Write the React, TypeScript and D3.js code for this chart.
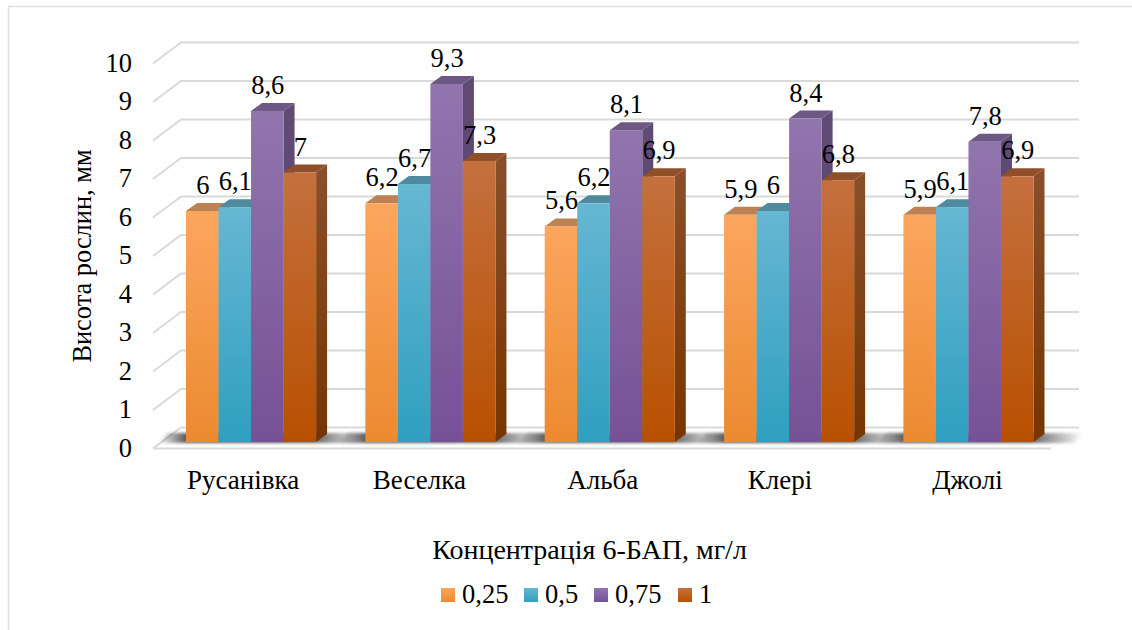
import React from "react";
import * as d3 from "d3";

const categories = ["Русанівка", "Веселка", "Альба", "Клері", "Джолі"];
const seriesNames = ["0,25", "0,5", "0,75", "1"];
const conc025 = [6, 6.2, 5.6, 5.9, 5.9];
const conc05 = [6.1, 6.7, 6.2, 6, 6.1];
const conc075 = [8.6, 9.3, 8.1, 8.4, 7.8];
const conc1 = [7, 7.3, 6.9, 6.8, 6.9];
const seriesValues = [conc025, conc05, conc075, conc1];
const yTicks = d3.range(0, 11);

const WIDTH = 1132;
const HEIGHT = 630;
const FONT = "'Liberation Serif', 'Times New Roman', serif";
const DX = 11; // oblique offset of a bar's depth
const DY = 8;
const GRID = "#d9d9d9";

const palette = [
  { top: "#bd8152", side: "#a86c38", a: "#fba65e", b: "#ec8a30" },
  { top: "#4f8a9f", side: "#3e7f95", a: "#66b7d2", b: "#2f9fc0" },
  { top: "#6d5883", side: "#5c4a70", a: "#9175ad", b: "#765196" },
  { top: "#8f5029", side: "#7f4623", a: "#c4703e", b: "#b85000" },
];

const y = d3.scaleLinear().domain([0, 10]).range([442, 57]);
const yBack = d3.scaleLinear().domain([0, 10]).range([427.5, 42.5]);
const yFront = d3.scaleLinear().domain([0, 10]).range([448.5, 63.5]);
const xGroup = d3.scaleBand<string>().domain(categories).range([186, 1033.5]).paddingInner(0.2747);
const xBar = d3.scaleBand<number>().domain(d3.range(seriesNames.length)).range([0, xGroup.bandwidth()]);

const poly = (pts: [number, number][]) => pts.map((p) => p.join(",")).join(" ");
const categoryNudge = [0, -3, 1, -1, 7];
const legendX = [441, 524, 594, 678];

export default function App() {
  const bw = xBar.bandwidth();
  return (
    <svg
      width={WIDTH}
      height={HEIGHT}
      viewBox={`0 0 ${WIDTH} ${HEIGHT}`}
      style={{ position: "absolute", left: 0, top: 0, background: "#fff" }}
      fontFamily={FONT}
      fill="#000"
    >
      <defs>
        {palette.map((c, i) => (
          <linearGradient key={i} id={`front${i}`} x1="0" y1="0" x2="0" y2="1">
            <stop offset="0" stopColor={c.a} />
            <stop offset="1" stopColor={c.b} />
          </linearGradient>
        ))}
        <linearGradient id="side3" x1="0" y1="0" x2="0" y2="1">
          <stop offset="0" stopColor="#8a4f2b" />
          <stop offset="1" stopColor="#763500" />
        </linearGradient>
        <linearGradient id="side2" x1="0" y1="0" x2="0" y2="1">
          <stop offset="0" stopColor="#5f4c74" />
          <stop offset="1" stopColor="#573c70" />
        </linearGradient>
        <linearGradient id="floorShadow" x1="0" y1="0" x2="1" y2="0">
          <stop offset="0" stopColor="#444" stopOpacity="0" />
          <stop offset="0.13" stopColor="#444" stopOpacity="0.85" />
          <stop offset="0.74" stopColor="#444" stopOpacity="0.85" />
          <stop offset="1" stopColor="#444" stopOpacity="0" />
        </linearGradient>
        <filter id="soft" x="-5%" y="-50%" width="110%" height="200%">
          <feGaussianBlur stdDeviation="1.6" />
        </filter>
      </defs>

      {/* frame of the chart area */}
      <path d={`M8.5,${HEIGHT} V6.5 H${WIDTH}`} fill="none" stroke="#e0e0e0" strokeWidth={1.5} />

      {/* walls and floor grid */}
      <g stroke={GRID} strokeWidth={2} fill="none">
        {yTicks.map((t) => (
          <path key={t} d={`M153,${yFront(t)} L181,${yBack(t)} H1079`} />
        ))}
        <path d={`M153,${yFront(0)} H1051`} />
      </g>

      {/* shadows cast on the floor */}
      {categories.map((c) => {
        const x0 = xGroup(c)! - 28;
        const x1 = xGroup(c)! + xGroup.bandwidth() + 50;
        return (
          <polygon
            key={c}
            points={poly([
              [x0, 443],
              [x1 - 10, 443],
              [x1, 433],
              [x0 + 10, 433],
            ])}
            fill="url(#floorShadow)"
            filter="url(#soft)"
          />
        );
      })}

      {/* bars: side, top, then front, left to right */}
      {categories.map((c, ci) => (
        <g key={c}>
          {seriesValues.map((vals, si) => {
            const x0 = xGroup(c)! + xBar(si)!;
            const x1 = x0 + bw;
            const yt = y(vals[ci]);
            const yb = y(0);
            return (
              <g key={si}>
                <polygon
                  points={poly([
                    [x1, yt],
                    [x1 + DX, yt - DY],
                    [x1 + DX, yb - DY],
                    [x1, yb],
                  ])}
                  fill={si >= 2 ? `url(#side${si})` : palette[si].side}
                />
                <polygon
                  points={poly([
                    [x0, yt],
                    [x0 + DX, yt - DY],
                    [x1 + DX, yt - DY],
                    [x1, yt],
                  ])}
                  fill={palette[si].top}
                />
                <rect x={x0} y={yt} width={bw} height={yb - yt} fill={`url(#front${si})`} />
              </g>
            );
          })}
        </g>
      ))}

      {/* value labels */}
      <g fontSize={26.5} textAnchor="middle">
        {categories.map((c, ci) =>
          seriesValues.map((vals, si) => (
            <text key={`${c}${si}`} x={xGroup(c)! + xBar(si)! + bw / 2 + 0.5} y={y(vals[ci]) - 17}>
              {String(vals[ci]).replace(".", ",")}
            </text>
          ))
        )}
      </g>

      {/* y axis */}
      <g fontSize={26.5} textAnchor="end">
        {yTicks.map((t) => (
          <text key={t} x={132} y={yFront(t) + 8}>
            {t}
          </text>
        ))}
      </g>
      <text transform="translate(90.5,256) rotate(-90)" textAnchor="middle" fontSize={26.4}>
        Висота рослин, мм
      </text>

      {/* category axis */}
      <g fontSize={27} textAnchor="middle">
        {categories.map((c, i) => (
          <text key={c} x={xGroup(c)! + xGroup.bandwidth() / 2 - 8 + categoryNudge[i]} y={489}>
            {c}
          </text>
        ))}
      </g>
      <text x={589.5} y={559} textAnchor="middle" fontSize={28}>
        Концентрація 6-БАП, мг/л
      </text>

      {/* legend */}
      {seriesNames.map((name, i) => (
        <g key={name}>
          <rect x={legendX[i]} y={588} width={14} height={14} fill={`url(#front${i})`} />
          <text x={legendX[i] + 21} y={603} fontSize={26.5}>
            {name}
          </text>
        </g>
      ))}
    </svg>
  );
}
